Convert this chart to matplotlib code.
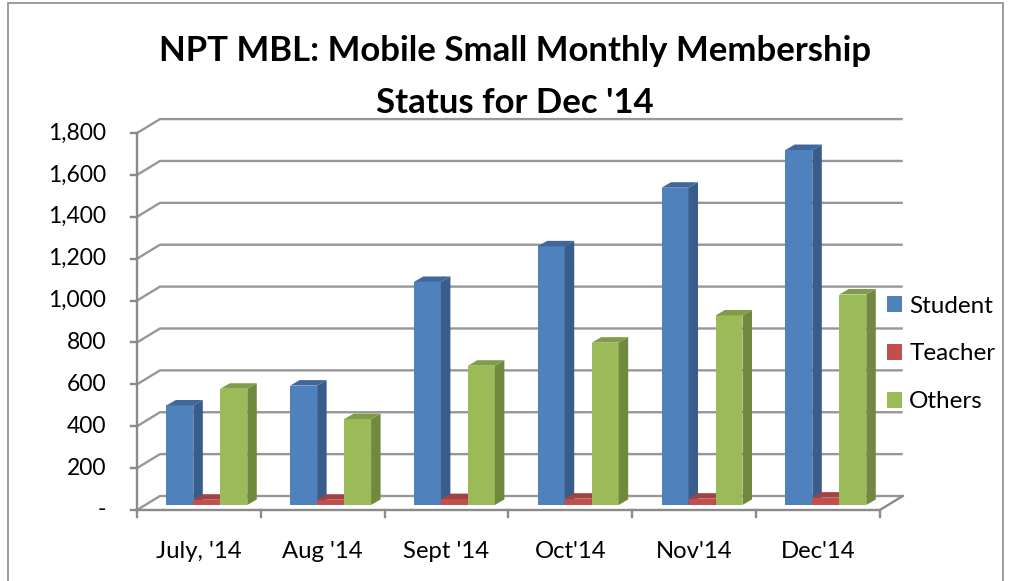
import matplotlib
matplotlib.use('Agg')
import matplotlib.pyplot as plt
from matplotlib.patches import Polygon, Rectangle, Patch

categories = ["July, '14", "Aug '14", "Sept '14", "Oct'14", "Nov'14", "Dec'14"]
series_names = ['Student', 'Teacher', 'Others']
student = [475, 570, 1065, 1235, 1515, 1695]
teacher = [25, 25, 28, 30, 30, 35]
others = [555, 410, 665, 775, 905, 1005]
yticks = [0, 200, 400, 600, 800, 1000, 1200, 1400, 1600, 1800]
ytick_labels = ['-', '200', '400', '600', '800', '1,000', '1,200', '1,400', '1,600', '1,800']
title = "NPT MBL: Mobile Small Monthly Membership\nStatus for Dec '14"

front_cols = ['#4F81BD', '#C0504D', '#9BBB59']
side_cols = ['#385D8A', '#8E3A38', '#71893F']
top_cols = ['#40679B', '#A24341', '#809C48']

FONT = ['Lato', 'DejaVu Sans']
plt.rcParams['font.family'] = FONT

W, H, DPI = 1010, 581, 100
fig = plt.figure(figsize=(W / DPI, H / DPI), dpi=DPI)
fig.patch.set_facecolor('white')

L, R, B, T = 137, 912, 510, 110
ax = fig.add_axes([L / W, 1 - B / H, (R - L) / W, (B - T) / H])
PX_X = 123.8
PX_Y = 0.2094
ax.set_xlim(0, (R - L) / PX_X)
ax.set_ylim(0, (B - T) / PX_Y)
ax.axis('off')

DX = 23 / PX_X
DY = 14 / PX_Y
ncat = len(categories)
grid_col = '#979797'
axis_col = '#8A8A8A'

# walls / gridlines
for v in yticks:
    ax.plot([0, DX, ncat + DX], [v, v + DY, v + DY], color=grid_col, lw=1.7,
            solid_capstyle='butt', clip_on=False, zorder=1)
# floor
ax.plot([0, ncat, ncat + DX], [0, 0, DY], color=axis_col, lw=1.7, clip_on=False, zorder=1)
# vertical axis
ax.plot([0, 0], [0, yticks[-1]], color=axis_col, lw=1.7, clip_on=False, zorder=1)
tick_w = 6 / PX_X
for v, lab in zip(yticks, ytick_labels):
    ax.plot([-tick_w, 0], [v, v], color=axis_col, lw=1.7, clip_on=False, zorder=1)
    ax.text(-31 / PX_X, v, lab, ha='right', va='center', fontsize=16.5, color='black')
tick_h = 7 / PX_Y
for i in range(ncat + 1):
    ax.plot([i, i], [0, -tick_h], color=axis_col, lw=1.7, clip_on=False, zorder=1)
for i, c in enumerate(categories):
    ax.text(i + 0.5, -41 / PX_Y, c, ha='center', va='center', fontsize=17.2, color='black')

# 3D-looking bars
f0 = 0.36
dd_x = 9.5 / PX_X
dd_y = 5.5 / PX_Y
bw = 0.218
start = 0.17
data = [student, teacher, others]
for i in range(ncat):
    for s in range(3):
        v = data[s][i]
        x0 = i + start + s * bw + f0 * DX
        y0 = f0 * DY
        ax.bar(x0, v, width=bw, bottom=y0, align='edge', color=front_cols[s],
               edgecolor='none', zorder=2 + i * 3 + s, clip_on=False)
        x1 = x0 + bw
        y1 = y0 + v
        side = Polygon([(x1, y0), (x1, y1), (x1 + dd_x, y1 + dd_y), (x1 + dd_x, y0 + dd_y)],
                       closed=True, facecolor=side_cols[s], edgecolor='none',
                       zorder=2 + i * 3 + s, clip_on=False)
        top = Polygon([(x0, y1), (x1, y1), (x1 + dd_x, y1 + dd_y), (x0 + dd_x, y1 + dd_y)],
                      closed=True, facecolor=top_cols[s], edgecolor='none',
                      zorder=2 + i * 3 + s, clip_on=False)
        ax.add_patch(side)
        ax.add_patch(top)

# title
fig.text(515 / W, 1 - 77 / H, title, ha='center', va='center', fontsize=25,
         fontweight='bold', linespacing=1.75, color='black')

# legend
handles = [Patch(facecolor=c, edgecolor='none') for c in front_cols]
fig.legend(handles, series_names, loc='center left', bbox_to_anchor=(887 / W, 1 - 354 / H),
           frameon=False, fontsize=17.5, handlelength=0.62, handleheight=0.62,
           handletextpad=0.3, labelspacing=1.1, borderaxespad=0, borderpad=0)

# chart frame
fig.add_artist(Rectangle((8 / W, -0.05), (1003 - 8) / W, 1 - 3 / H + 0.05,
                         transform=fig.transFigure, fill=False, edgecolor='#8C8C8C', lw=1.2))

fig.savefig('out.png', dpi=DPI)
